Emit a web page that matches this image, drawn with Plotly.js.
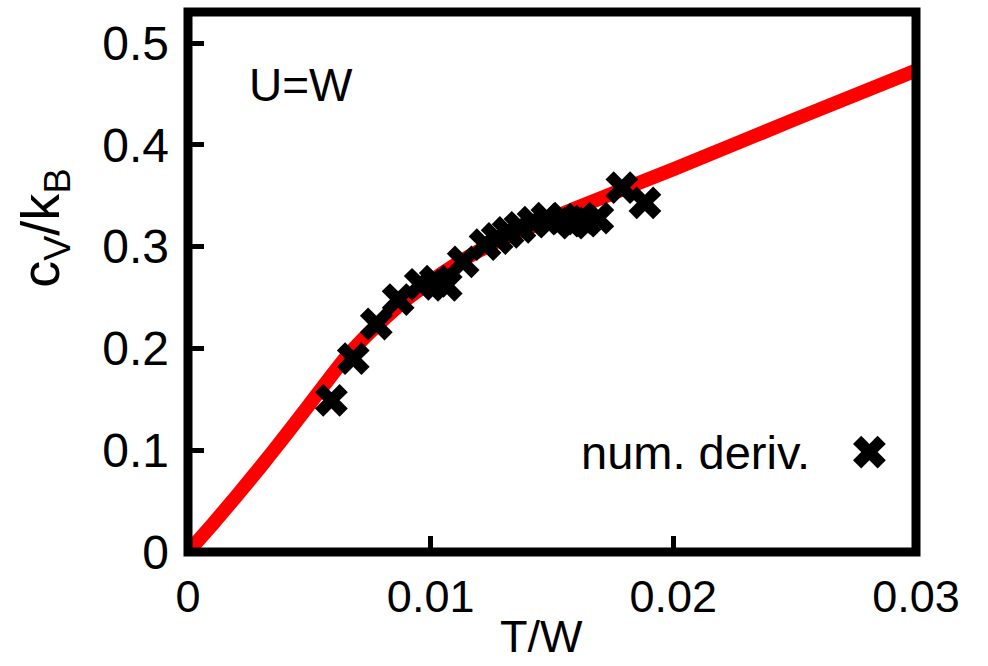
<!DOCTYPE html>
<html>
<head>
<meta charset="utf-8">
<script src="https://cdn.plot.ly/plotly-3.0.1.min.js"></script>
<style>html,body{margin:0;padding:0;background:#fff;}#chart{width:988px;height:666px;}</style>
</head>
<body>
<div id="chart"></div>
<script>
// Smooth curve (red line)
const curveT = [0, 0.001, 0.002, 0.003, 0.004, 0.005, 0.006, 0.0065, 0.007, 0.0075, 0.008, 0.0085, 0.009, 0.0095, 0.010, 0.011, 0.012, 0.013, 0.014, 0.015, 0.016, 0.018, 0.020, 0.025, 0.030];
const curveC = [0, 0.027, 0.055, 0.084, 0.114, 0.145, 0.176, 0.191, 0.204, 0.216, 0.227, 0.238, 0.248, 0.257, 0.266, 0.282, 0.296, 0.308, 0.318, 0.328, 0.338, 0.357, 0.376, 0.425, 0.473];
// Numerical derivative points
const derivT = [0.00591, 0.00681, 0.00776, 0.00866, 0.00957, 0.01019, 0.01064, 0.01134, 0.01224, 0.01274, 0.01319, 0.01368, 0.01422, 0.01479, 0.01541, 0.01586, 0.01636, 0.01689, 0.01788, 0.01883];
const derivC = [0.149, 0.190, 0.224, 0.248, 0.263, 0.266, 0.262, 0.285, 0.302, 0.308, 0.314, 0.319, 0.324, 0.328, 0.327, 0.323, 0.325, 0.328, 0.358, 0.343];
const xTicks = [0, 0.01, 0.02, 0.03];
const xTickText = ['0', '0.01', '0.02', '0.03'];
const yTicks = [0, 0.1, 0.2, 0.3, 0.4, 0.5];
const yTickText = ['0', '0.1', '0.2', '0.3', '0.4', '0.5'];

const FONT = 'Liberation Sans, Arial, sans-serif';
const MSIZE = 29;

const traces = [
  {x: curveT, y: curveC, mode: 'lines', type: 'scatter', name: 'U=W',
   line: {color: '#ff0000', width: 14, shape: 'spline', smoothing: 0.4}, showlegend: false},
  {x: derivT, y: derivC, mode: 'markers', type: 'scatter', name: 'num. deriv.',
   marker: {symbol: 'x', size: MSIZE, color: '#000000', line: {width: 0}}, showlegend: false}
];

// legend sample marker: same outline as plotly's 'x' symbol
const rx = (MSIZE / 2) * 0.8 / Math.SQRT2;
function xPath(rx) {
  const steps = [[1,1],[1,-1],[-1,-1],[1,-1],[-1,-1],[-1,1],[-1,-1],[-1,1],[1,1],[-1,1],[1,1]];
  let cx = 0, cy = rx;
  let d = 'M0,' + rx.toFixed(2);
  for (const s of steps) { cx += s[0]*rx; cy += s[1]*rx; d += ' L' + cx.toFixed(2) + ',' + cy.toFixed(2); }
  return d + ' Z';
}

const layout = {
  width: 988, height: 666,
  margin: {l: 187.5, r: 71.5, t: 12, b: 114, pad: 0},
  paper_bgcolor: '#ffffff', plot_bgcolor: '#ffffff',
  font: {family: FONT, color: '#000000', size: 44},
  xaxis: {
    range: [0, 0.03], tickvals: xTicks, ticktext: xTickText,
    ticks: 'inside', ticklen: 16, tickwidth: 5, tickcolor: '#000000',
    showgrid: false, zeroline: false, showline: false,
    tickfont: {family: FONT, size: 45, color: '#000000'},
    ticklabelstandoff: 14
  },
  yaxis: {
    range: [0, 0.5305], tickvals: yTicks, ticktext: yTickText,
    ticks: 'inside', ticklen: 16, tickwidth: 5, tickcolor: '#000000',
    showgrid: false, zeroline: false, showline: false,
    tickfont: {family: FONT, size: 48, color: '#000000'},
    ticklabelstandoff: 18
  },
  shapes: [
    {type: 'rect', xref: 'paper', yref: 'paper', x0: 0, x1: 1, y0: 0, y1: 1,
     line: {color: '#000000', width: 9}, fillcolor: 'rgba(0,0,0,0)', layer: 'above'},
    {type: 'path', xref: 'paper', yref: 'paper', xsizemode: 'pixel', ysizemode: 'pixel',
     xanchor: 0.936, yanchor: 0.185, path: xPath(rx),
     fillcolor: '#000000', line: {width: 0}, layer: 'above'}
  ],
  annotations: [
    {text: 'T/W', xref: 'paper', yref: 'paper', x: 0.485, y: -0.207, xanchor: 'center', yanchor: 'bottom',
     showarrow: false, font: {family: FONT, size: 45, color: '#000000'}},
    {text: 'c<sub>V</sub>/k<sub>B</sub>', xref: 'paper', yref: 'paper', x: -0.198, y: 0.6, xanchor: 'center', yanchor: 'middle',
     textangle: -90, showarrow: false, font: {family: FONT, size: 54, color: '#000000'}},
    {text: 'U=W', xref: 'paper', yref: 'paper', x: 0.081, y: 0.865, xanchor: 'left', yanchor: 'middle',
     showarrow: false, font: {family: FONT, size: 46, color: '#000000'}},
    {text: 'num. deriv.', xref: 'paper', yref: 'paper', x: 0.857, y: 0.185, xanchor: 'right', yanchor: 'middle',
     showarrow: false, font: {family: FONT, size: 47, color: '#000000'}}
  ],
  showlegend: false
};

Plotly.newPlot('chart', traces, layout, {displayModeBar: false, staticPlot: true});
</script>
</body>
</html>
